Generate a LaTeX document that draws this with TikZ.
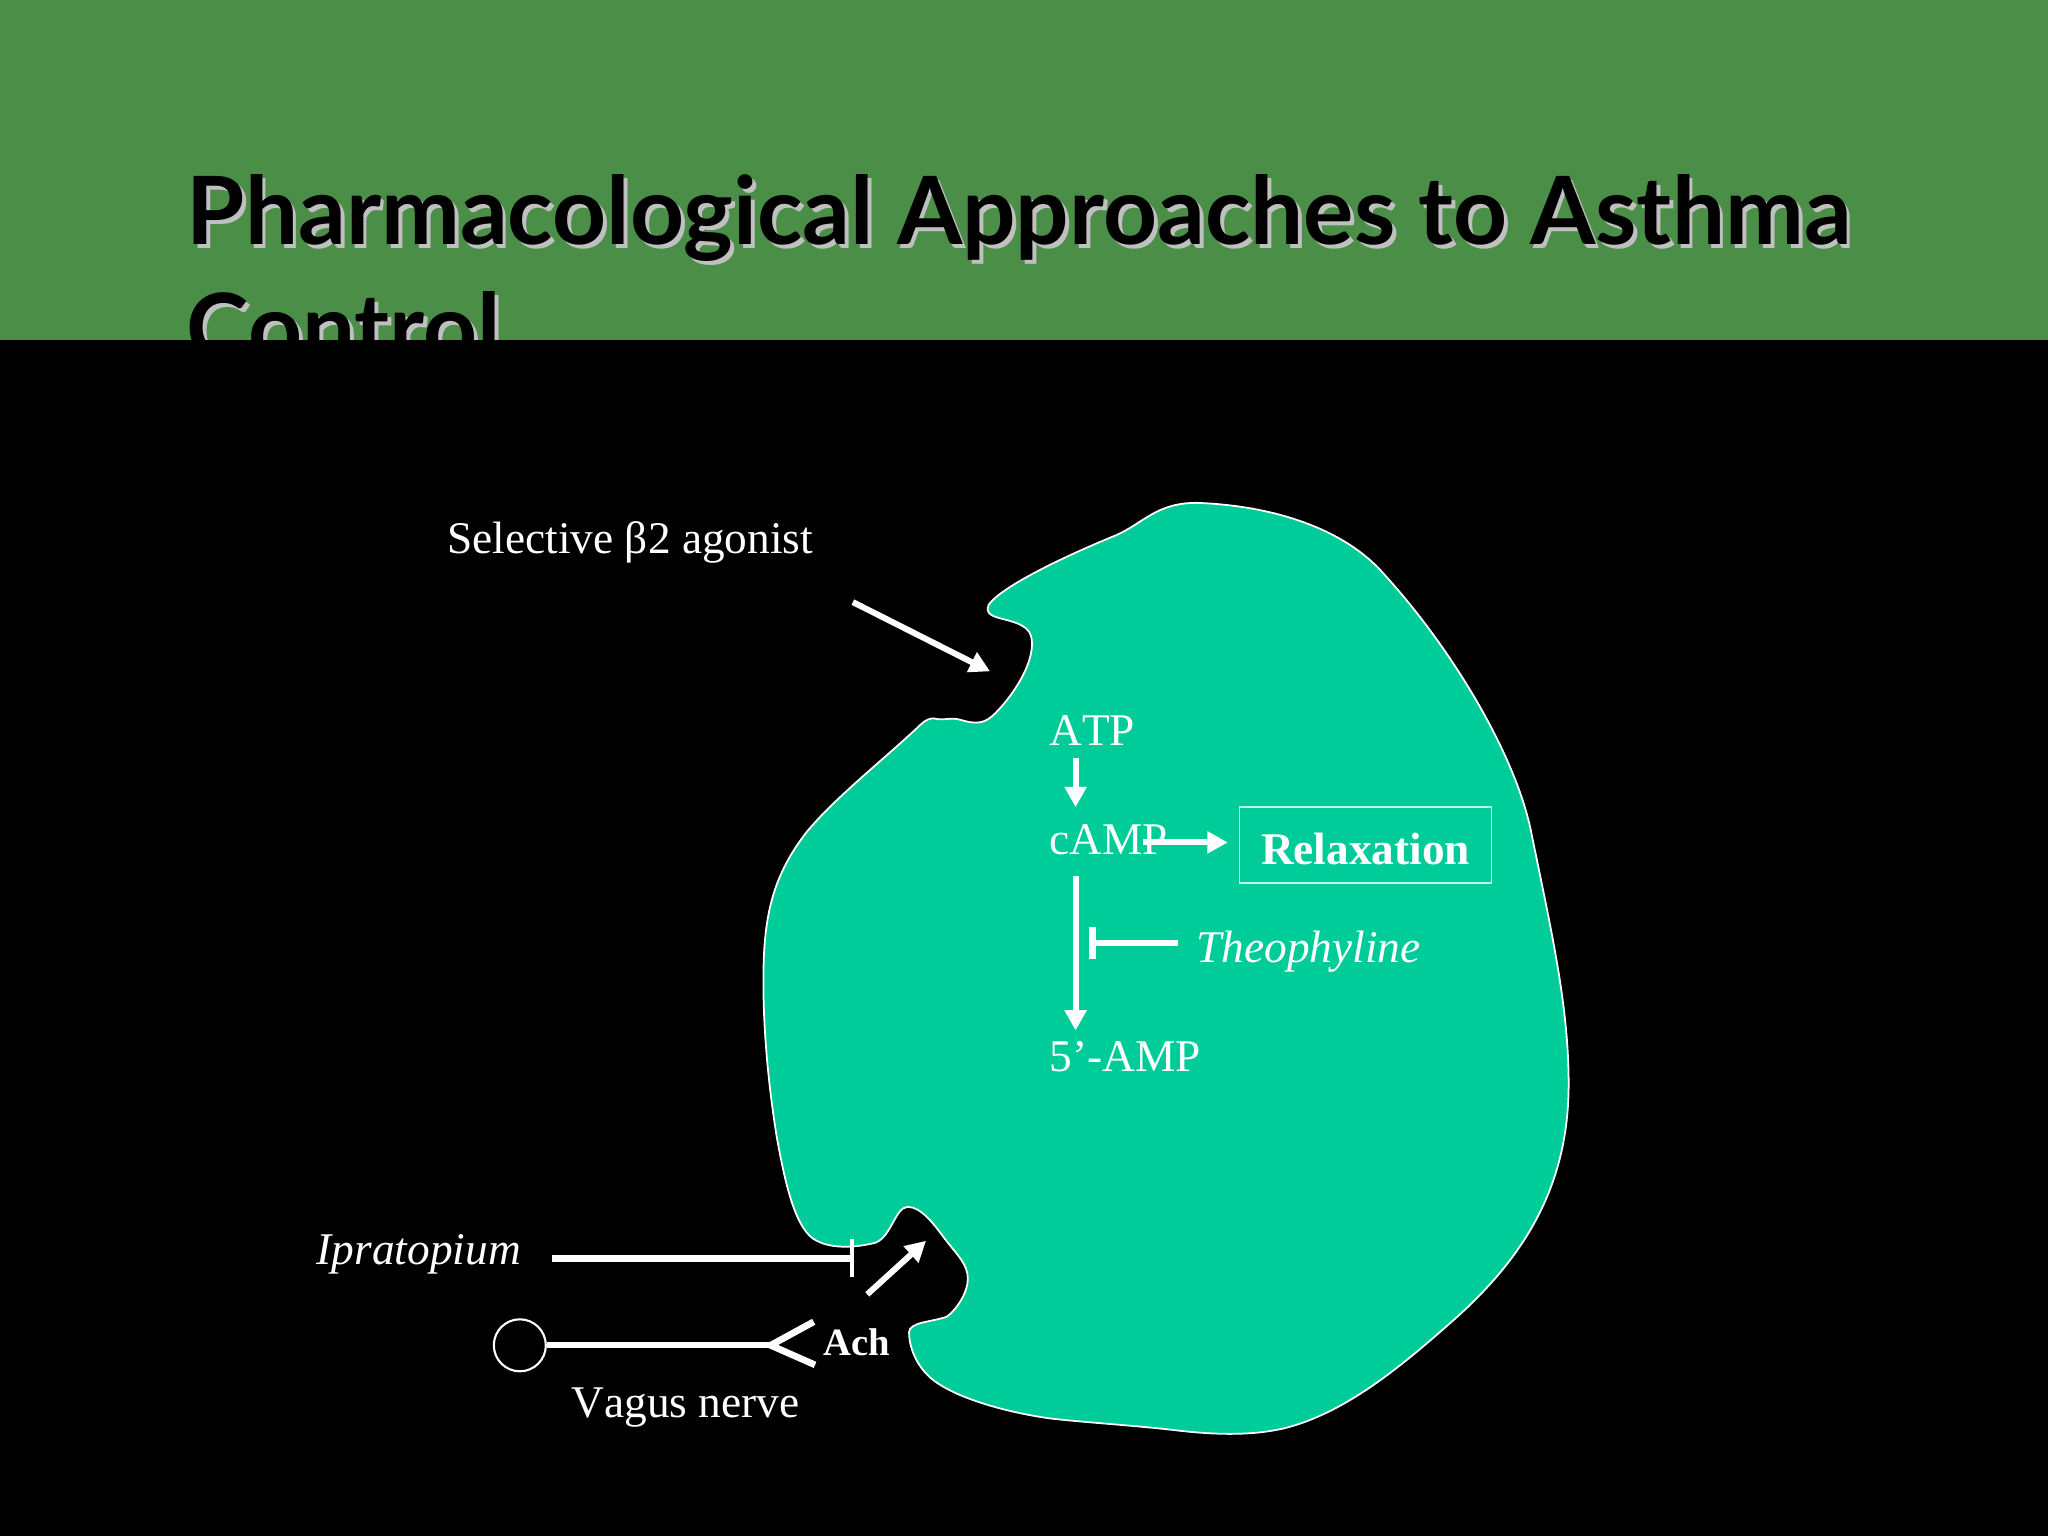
\documentclass[tikz,border=0pt]{standalone}
\usepackage{fontspec}
\setmainfont[Kerning=Off]{Liberation Serif}
\newfontfamily\titlefont{Lato}
\usetikzlibrary{arrows.meta}
\definecolor{bandgreen}{RGB}{74,142,71}
\definecolor{cellteal}{RGB}{0,204,153}
\definecolor{shadowgray}{RGB}{192,192,192}
\definecolor{boxline}{RGB}{190,245,232}

\begin{document}
\begin{tikzpicture}[x=0.0130612cm, y=-0.0130612cm,
		txt/.style={text=white, anchor=base west, inner sep=0pt, font=\fontsize{12.9}{15}\selectfont},
		ttl/.style={anchor=base west, inner sep=0pt, font=\titlefont\bfseries\fontsize{26.8}{32}\selectfont},
		flow/.style={white, line width=1.7pt, -{Triangle[length=5.8pt, width=6pt]}},
		block/.style={white, line width=1.8pt}]
	\useasboundingbox (0,0) rectangle (1568,1176);
	\fill[black] (0,0) rectangle (1568,1176);
	\fill[bandgreen] (0,0) rectangle (1568,260);
	% title, cut off by the black part
	\node[ttl, text=shadowgray] (T1s)at(145.5, 190) {Pharmacological Approaches to Asthma};
	\node[ttl, text=shadowgray] (T2s)at(145.5, 279.5) {Control};
	\node[ttl, text=black] (T1)at(142.5, 187) {Pharmacological Approaches to Asthma};
	\node[ttl, text=black] (T2)at(142.5, 276.5) {Control};
	\fill[black] (0,260) rectangle (1568,1176);
	% cell
	\draw[white, fill=cellteal, line width=0.5pt] (916,385)
		.. controls (975,387) and (1030,405) .. (1060,440)
		.. controls (1112,497) and (1161,579) .. (1172.5,638)
		.. controls (1188,714) and (1201,770) .. (1201,830)
		.. controls (1201,905) and (1170,960) .. (1113,1010.6)
		.. controls (1073,1046) and (1030,1082) .. (983,1093.6)
		.. controls (955,1100) and (925,1098) .. (898.8,1094.9)
		.. controls (870,1091.5) and (830,1089) .. (804,1086)
		.. controls (775,1082) and (735,1072) .. (715,1057)
		.. controls (703,1048) and (696,1033) .. (696,1020)
		.. controls (696,1012) and (715,1012) .. (725,1008)
		.. controls (732,1003) and (741,990) .. (741,979)
		.. controls (741,968) and (733,961) .. (723,948)
		.. controls (715,937) and (705,924) .. (695,924)
		.. controls (685,924) and (682,950) .. (668,952)
		.. controls (655,955) and (635,957) .. (622,948)
		.. controls (608,937) and (601,905) .. (594.7,870.6)
		.. controls (589,835) and (584,790) .. (584.5,745)
		.. controls (585,700) and (592,670) .. (617.6,637)
		.. controls (640,610) and (675,583) .. (705.7,554)
		.. controls (709,551) and (712,550) .. (715,550)
		.. controls (722,552) and (728,549) .. (735,551)
		.. controls (745,554) and (752,555) .. (760,548)
		.. controls (772,537) and (792,510) .. (790,490)
		.. controls (789,480) and (780,477) .. (768,474)
		.. controls (760,472) and (754,470) .. (757,463)
		.. controls (766,450) and (810,428) .. (854,410)
		.. controls (875,401) and (885,385) .. (916,385) -- cycle;
	% labels
	\node[txt] (agonist)at(342, 424) {Selective β2 agonist};
	\node[txt] (ATP)at(803, 570.5) {ATP};
	\node[txt] (cAMP)at(803, 654.5) {cAMP};
	\node[txt] (AMP)at(803, 820.5) {5’-AMP};
	\node[txt, font=\fontsize{12.9}{15}\selectfont\itshape] (Theo)at(915.5, 737) {Theophyline};
	\node[txt, font=\fontsize{12.9}{15}\selectfont\itshape] (Ipra)at(242, 968) {Ipratopium};
	\node[txt] (Vagus)at(437, 1085) {Vagus nerve};
	\node[txt, font=\fontsize{11}{13}\selectfont\bfseries] (Ach)at(630, 1037.5) {Ach};
	\node[draw=boxline, text=white, line width=0.5pt, minimum width=2.52cm, minimum height=0.757cm, inner sep=0pt,
		text height=11pt, text depth=0pt, font=\fontsize{12.9}{15}\selectfont\bfseries] (Relax)at(1045.5, 647) {Relaxation};
	\node[draw=white, circle, line width=0.6pt, minimum size=0.52cm, inner sep=0pt] (soma)at(398, 1030) {};
	% connector ends
	\coordinate (a1)at(653, 461);
	\coordinate (a2)at(758, 514);
	\coordinate (b1)at(823.5, 580);
	\coordinate (b2)at(823.5, 618);
	\coordinate (c1)at(875, 645);
	\coordinate (c2)at(940, 645);
	\coordinate (d1)at(823.5, 671);
	\coordinate (d2)at(823.5, 789);
	\coordinate (e1)at(902, 722);
	\coordinate (e2)at(834, 722);
	\coordinate (f1)at(423, 963.5);
	\coordinate (f2)at(654, 963.5);
	\coordinate (g1)at(664, 991);
	\coordinate (g2)at(709, 950);
	\coordinate (v0)at(590, 1030);
	\coordinate (v1)at(623, 1012);
	\coordinate (v2)at(624, 1045);
	\draw[flow] (a1) -- (a2);
	\draw[flow] (b1) -- (b2);
	\draw[flow] (c1) -- (c2);
	\draw[flow] (d1) -- (d2);
	\draw[flow] (g1) -- (g2);
	\draw[block, -{Bar[width=9.3pt, line width=1.9pt]}] (e1) -- (e2);
	\draw[block, -{Bar[width=10.8pt, line width=1.1pt]}] (f1) -- (f2);
	\draw[white, line width=1.7pt] (soma) -- (v0);
	\draw[white, line width=1.9pt] (v1) -- (v0) -- (v2);
\end{tikzpicture}
\end{document}
